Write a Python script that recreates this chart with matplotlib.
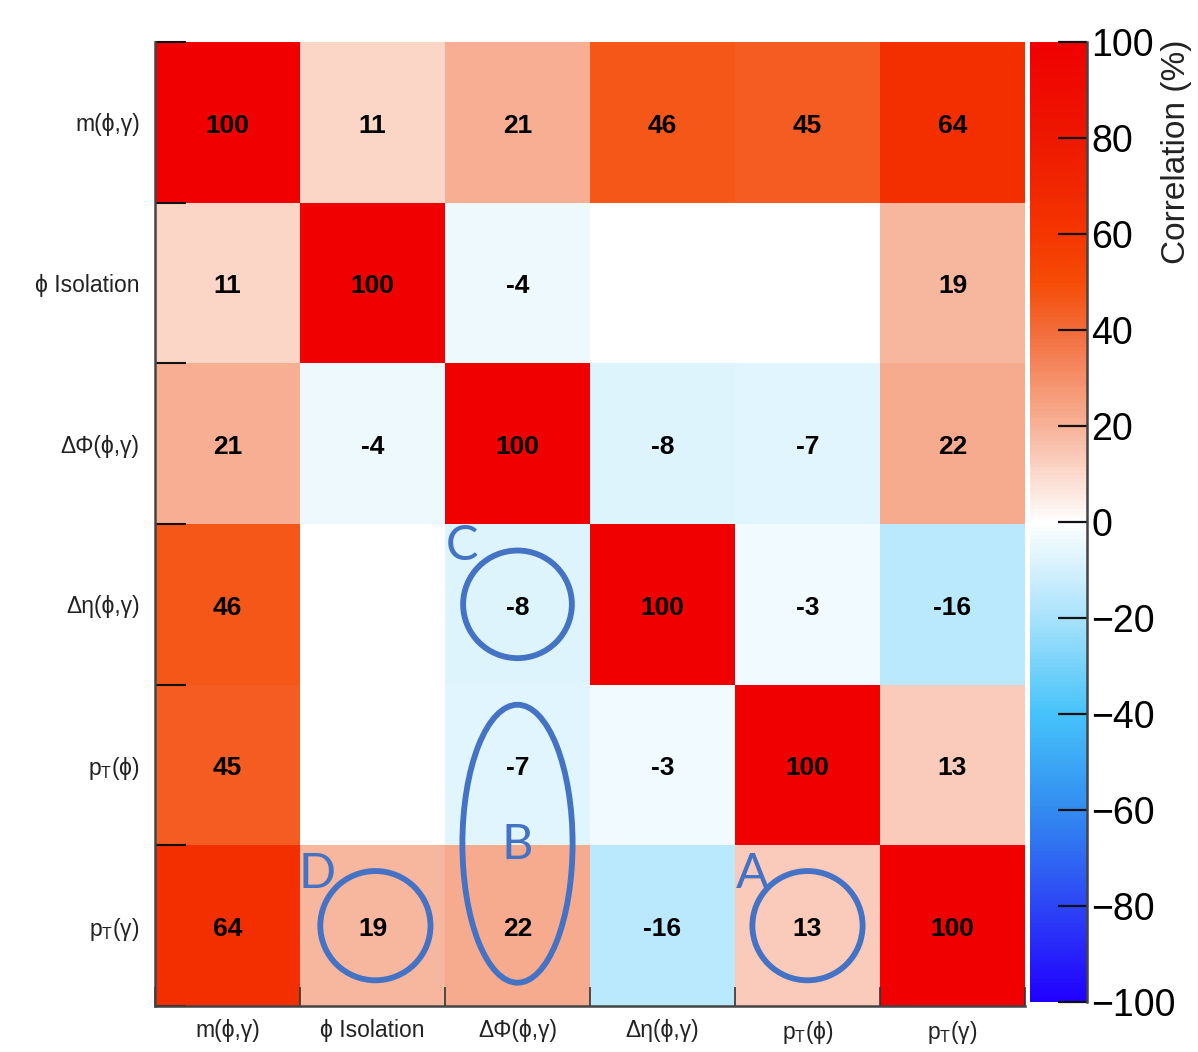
import numpy as np
import matplotlib
matplotlib.use("Agg")
import matplotlib.pyplot as plt
from matplotlib.colors import LinearSegmentedColormap
from matplotlib.patches import Ellipse

plt.rcParams['font.family'] = ['Liberation Sans', 'DejaVu Sans']
plt.rcParams['mathtext.fontset'] = 'custom'
plt.rcParams['mathtext.rm'] = 'Liberation Sans'

# variable names (rows top to bottom, columns left to right)
variables = ['m(ϕ,γ)', 'ϕ Isolation', 'ΔΦ(ϕ,γ)', 'Δη(ϕ,γ)',
             r'p$_\mathregular{T}$(ϕ)', r'p$_\mathregular{T}$(γ)']

# correlation rows in percent
row_m = [100, 11, 21, 46, 45, 64]
row_iso = [11, 100, -4, 0, 0, 19]
row_dphi = [21, -4, 100, -8, -7, 22]
row_deta = [46, 0, -8, 100, -3, -16]
row_ptphi = [45, 0, -7, -3, 100, 13]
row_ptgam = [64, 19, 22, -16, 13, 100]

cbar_ticks = [-100, -80, -60, -40, -20, 0, 20, 40, 60, 80, 100]

# highlighted cells: label, centre column, centre row, width, height, label position
marks = [
    ('A', 4.5, 5.5, 0.76, 0.68, 4.12, 5.18),
    ('B', 2.5, 4.99, 0.76, 1.73, 2.5, 5.0),
    ('C', 2.5, 3.5, 0.75, 0.67, 2.12, 3.14),
    ('D', 1.52, 5.5, 0.76, 0.68, 1.12, 5.18),
]

corr = np.array([row_m, row_iso, row_dphi, row_deta, row_ptphi, row_ptgam])

# blue - white - red palette
stops = [
    (-100, (32, 0, 255)),
    (-80, (45, 70, 245)),
    (-60, (50, 140, 240)),
    (-40, (70, 195, 250)),
    (-20, (168, 226, 251)),
    (0, (255, 255, 255)),
    (20, (247, 178, 152)),
    (40, (243, 108, 58)),
    (50, (246, 76, 6)),
    (60, (245, 54, 0)),
    (80, (238, 24, 0)),
    (100, (240, 0, 0)),
]
cmap = LinearSegmentedColormap.from_list(
    'corr', [((v + 100) / 200, tuple(c / 255 for c in rgb)) for v, rgb in stops], N=255)

W, H = 1198, 1052
fig = plt.figure(figsize=(W / 100, H / 100), dpi=100)
ax = fig.add_axes([155 / W, 1 - 1006 / H, 870 / W, 964 / H])
cax = fig.add_axes([1030 / W, 1 - 1002 / H, 57 / W, 960 / H])

n = len(variables)
mesh = ax.pcolormesh(np.arange(n + 1), np.arange(n + 1), corr,
                     cmap=cmap, vmin=-100, vmax=100)
ax.set_xlim(0, n)
ax.set_ylim(n, 0)

for i in range(n):
    for j in range(n):
        if corr[i, j] != 0:
            ax.text(j + 0.5, i + 0.52, str(corr[i, j]), ha='center', va='center',
                    fontsize=19, fontweight='bold', color='black')

# axes: labels at cell centres, ticks on cell edges
ax.set_xticks(np.arange(n) + 0.5)
ax.set_xticklabels(variables, fontsize=16.5, color='#222222')
ax.set_yticks(np.arange(n) + 0.5)
ax.set_yticklabels(variables, fontsize=16.5, color='#222222')
ax.tick_params(which='major', length=0)
ax.tick_params(axis='x', which='major', pad=9)
ax.tick_params(axis='y', which='major', pad=11)
ax.set_xticks(np.arange(n + 1), minor=True)
ax.set_yticks(np.arange(n + 1), minor=True)
ax.tick_params(axis='y', which='minor', direction='in', length=22, width=1.5, color='#111111')
ax.tick_params(axis='x', which='minor', direction='in', length=14, width=1.2, color='#333333')
for side in ['top', 'right']:
    ax.spines[side].set_visible(False)
for side in ['left', 'bottom']:
    ax.spines[side].set_color('#444444')
    ax.spines[side].set_linewidth(1.8)

# circled cells with letters
blue = '#4472C4'
for label, cx, cy, w, h, lx, ly in marks:
    ax.add_patch(Ellipse((cx, cy), w, h, fill=False, edgecolor=blue, linewidth=4.2))
    ax.text(lx, ly, label, ha='center', va='center', fontsize=35,
            color=blue, family=['Lato', 'DejaVu Sans'])

# colour scale
cbar = fig.colorbar(mesh, cax=cax, ticks=cbar_ticks)
cbar.outline.set_visible(False)
cax.tick_params(direction='in', length=21, width=1.6, color='#111111',
                labelsize=27, pad=3)
cax.plot([1, 1], [0, 1], transform=cax.transAxes, color='#444444',
         linewidth=1.8, clip_on=False)
fig.text(1177 / W, 1 - 40 / H, 'Correlation (%)', rotation=90,
         ha='center', va='top', fontsize=24, color='#222222')

fig.savefig('out.png', dpi=100)
